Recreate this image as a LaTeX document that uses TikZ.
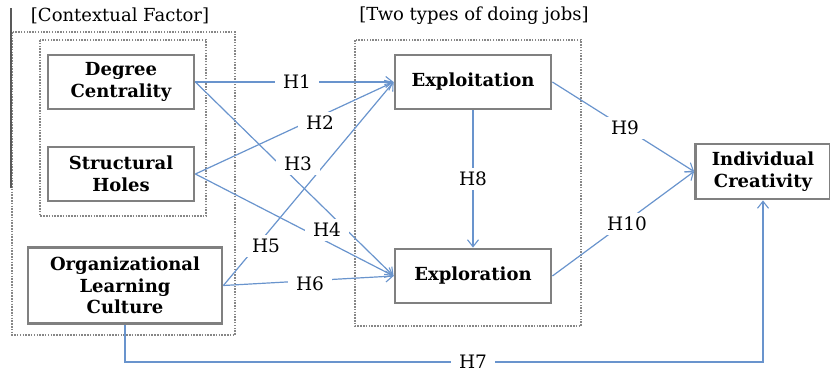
\documentclass[tikz,border=0pt]{standalone}
\usepackage{fontspec}
\setmainfont{DejaVu Serif}
\usetikzlibrary{arrows.meta}
\definecolor{linkblue}{RGB}{105,148,205}
\definecolor{boxgray}{RGB}{128,128,128}
\definecolor{framegray}{RGB}{135,135,135}
\begin{document}
\begin{tikzpicture}[x=1pt,y=-1pt,
  box/.style={draw=boxgray,line width=2.8pt,fill=white,font=\fontsize{18}{21.5}\selectfont\bfseries,align=center,inner sep=0pt},
  link/.style={draw=linkblue,line width=1.2pt,-{Straight Barb[length=7pt,width=11pt,line width=1.1pt]}},
  lbl/.style={fill=white,font=\fontsize{18.5}{21}\selectfont,inner xsep=8pt,inner ysep=4pt},
  frame/.style={draw=framegray,line width=2.4pt,dash pattern=on 1.5pt off 1.3pt},
  hdr/.style={font=\fontsize{18}{21}\selectfont,inner sep=0pt}]
\useasboundingbox (0,0) rectangle (830,376);
% frames
\draw[frame] (12,32) rectangle (235,335);
\draw[frame] (40,40) rectangle (206,216);
\draw[frame] (355,40) rectangle (581,326);
\draw[draw=black!65,line width=1.4pt] (11,8) -- (11,188);
% headers
\node[hdr] (hcf) at (120,16) {[Contextual Factor]};
\node[hdr] (htt) at (474,16) {[Two types of doing jobs]};
% boxes
\node[box,minimum width=146pt,minimum height=54pt] (dc) at (121,82) {Degree\\Centrality};
\node[box,minimum width=146pt,minimum height=54pt] (sh) at (121,174) {Structural\\Holes};
\node[box,minimum width=194pt,minimum height=76pt] (olc) at (125,285.5) {Organizational\\Learning\\Culture};
\node[box,minimum width=156pt,minimum height=54pt] (et) at (473,82) {Exploitation};
\node[box,minimum width=156pt,minimum height=54pt] (er) at (473,276) {Exploration};
\node[box,minimum width=135pt,minimum height=55pt] (ic) at (763,171.5) {Individual\\Creativity};
% connectors
\coordinate (h7c) at (473,362);
\draw[link] (dc.east) -- (et.west);
\draw[link] (sh.east) -- (et.west);
\draw[link] (dc.east) -- (er.west);
\draw[link] (sh.east) -- (er.west);
\draw[link] (olc.east) -- (et.west);
\draw[link] (olc.east) -- (er.west);
\draw[link] (olc.south) |- (h7c) -| (ic.south);
\draw[link] (et.south) -- (er.north);
\draw[link] (et.east) -- (ic.west);
\draw[link] (er.east) -- (ic.west);
% labels
\node[lbl] (l1) at (297,82) {H1};
\node[lbl] (l2) at (320,123) {H2};
\node[lbl] (l3) at (298,164) {H3};
\node[lbl] (l4) at (327,230) {H4};
\node[lbl] (l5) at (266,246) {H5};
\node[lbl] (l6) at (310,284) {H6};
\node[lbl] (l7) at (h7c) {H7};
\node[lbl] (l8) at (473,179) {H8};
\node[lbl] (l9) at (625,128) {H9};
\node[lbl] (l10) at (627,224) {H10};
\end{tikzpicture}
\end{document}
